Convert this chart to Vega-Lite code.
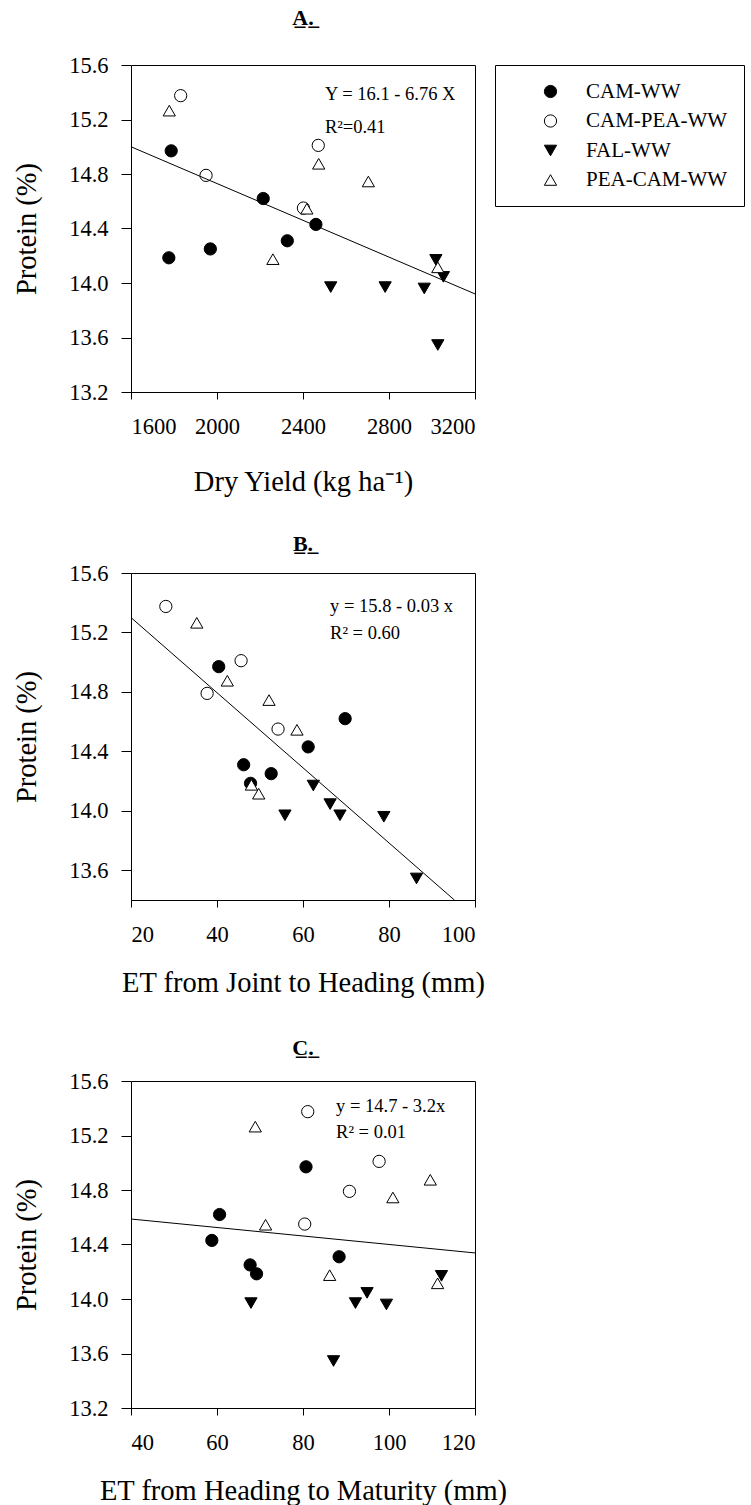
{
  "$schema": "https://vega.github.io/schema/vega-lite/v6.json",
  "padding": {"left": 12, "top": 6, "right": 0, "bottom": 0},
  "background": "white",
  "config": {
    "font": "Liberation Serif",
    "view": {"stroke": "black", "strokeWidth": 1},
    "axis": {"grid": false, "domainColor": "black", "domainWidth": 1, "tickColor": "black", "tickWidth": 1, "labelColor": "black", "titleColor": "black", "labelFontSize": 22.5, "titleFontSize": 28.5, "titleFontWeight": "normal", "labelFont": "Liberation Serif", "titleFont": "Liberation Serif"},
    "axisX": {"tickSize": 7, "labelPadding": 16, "titlePadding": 23},
    "axisY": {"tickSize": 10, "labelPadding": 13, "titlePadding": 27},
    "title": {"fontSize": 22, "fontWeight": "bold", "frame": "group", "anchor": "middle", "color": "black", "font": "Liberation Serif"},
    "legend": {"orient": "none", "legendX": 364, "legendY": 0, "strokeColor": "black", "strokeWidth": 1, "padding": 16, "symbolOffset": 29, "labelOffset": 25, "labelFontSize": 21, "labelFont": "Liberation Serif", "labelColor": "black", "rowPadding": 7.5, "symbolSize": 150, "symbolStrokeWidth": 1, "labelLimit": 300}
  },
  "datasets": {
    "pts": [
      {"group": "CAM-WW", "yield": 1787, "etjh": 40.4, "ethm": 80.7, "protein": 14.97},
      {"group": "CAM-WW", "yield": 1776, "etjh": 47.8, "ethm": 69.2, "protein": 14.185},
      {"group": "CAM-WW", "yield": 1969, "etjh": 52.6, "ethm": 67.7, "protein": 14.25},
      {"group": "CAM-WW", "yield": 2215, "etjh": 69.8, "ethm": 60.6, "protein": 14.62},
      {"group": "CAM-WW", "yield": 2327, "etjh": 46.2, "ethm": 88.4, "protein": 14.31},
      {"group": "CAM-WW", "yield": 2460, "etjh": 61.2, "ethm": 58.8, "protein": 14.43},
      {"group": "CAM-PEA-WW", "yield": 1831, "etjh": 28.1, "ethm": 81.1, "protein": 15.375},
      {"group": "CAM-PEA-WW", "yield": 1949, "etjh": 37.7, "ethm": 90.8, "protein": 14.79},
      {"group": "CAM-PEA-WW", "yield": 2402, "etjh": 54.2, "ethm": 80.4, "protein": 14.55},
      {"group": "CAM-PEA-WW", "yield": 2471, "etjh": 45.6, "ethm": 97.7, "protein": 15.01},
      {"group": "FAL-WW", "yield": 2529, "etjh": 55.8, "ethm": 67.9, "protein": 13.97},
      {"group": "FAL-WW", "yield": 2782, "etjh": 68.6, "ethm": 92.2, "protein": 13.97},
      {"group": "FAL-WW", "yield": 2964, "etjh": 78.8, "ethm": 99.4, "protein": 13.96},
      {"group": "FAL-WW", "yield": 3018, "etjh": 62.4, "ethm": 112.2, "protein": 14.17},
      {"group": "FAL-WW", "yield": 3053, "etjh": 66.3, "ethm": 94.9, "protein": 14.045},
      {"group": "FAL-WW", "yield": 3027, "etjh": 86.4, "ethm": 87.1, "protein": 13.545},
      {"group": "PEA-CAM-WW", "yield": 1778, "etjh": 35.3, "ethm": 68.9, "protein": 15.265},
      {"group": "PEA-CAM-WW", "yield": 2260, "etjh": 48.0, "ethm": 86.2, "protein": 14.175},
      {"group": "PEA-CAM-WW", "yield": 2418, "etjh": 58.6, "ethm": 71.3, "protein": 14.545},
      {"group": "PEA-CAM-WW", "yield": 2473, "etjh": 42.4, "ethm": 109.6, "protein": 14.875},
      {"group": "PEA-CAM-WW", "yield": 2704, "etjh": 52.1, "ethm": 100.9, "protein": 14.745},
      {"group": "PEA-CAM-WW", "yield": 3027, "etjh": 49.7, "ethm": 111.3, "protein": 14.115}
    ],
    "fitA": [{"yield": 1600, "protein": 15.0}, {"yield": 3200, "protein": 13.92}],
    "fitB": [{"etjh": 20, "protein": 15.3}, {"etjh": 95.2, "protein": 13.4}],
    "fitC": [{"ethm": 40, "protein": 14.587}, {"ethm": 120, "protein": 14.338}],
    "eqA": [{"yield": 2502, "protein": 15.387, "label": "Y = 16.1 - 6.76 X"}, {"yield": 2502, "protein": 15.145, "label": "R²=0.41"}],
    "eqB": [{"etjh": 66.3, "protein": 15.38, "label": "y = 15.8 - 0.03 x"}, {"etjh": 66.3, "protein": 15.195, "label": "R² = 0.60"}],
    "eqC": [{"ethm": 87.7, "protein": 15.417, "label": "y = 14.7 - 3.2x"}, {"ethm": 87.7, "protein": 15.225, "label": "R² = 0.01"}]
  },
  "bounds": "flush",
  "spacing": 181,
  "vconcat": [
    {
      "width": 344, "height": 327,
      "title": {"text": "A̲.̲", "offset": 24},
      "layer": [
        {
          "data": {"name": "pts"},
          "mark": {"type": "point", "filled": false, "strokeWidth": 1, "size": 150, "opacity": 1, "fillOpacity": 1, "strokeOpacity": 1},
          "encoding": {
            "x": {"field": "yield", "type": "quantitative", "scale": {"domain": [1600, 3200], "nice": false, "zero": false}, "axis": {"values": [1600, 2000, 2400, 2800, 3200], "format": "d", "title": "Dry Yield (kg ha⁻¹)", "titlePadding": 30}},
            "y": {"field": "protein", "type": "quantitative", "scale": {"domain": [13.2, 15.6], "nice": false, "zero": false}, "axis": {"values": [13.2, 13.6, 14.0, 14.4, 14.8, 15.2, 15.6], "format": ".1f", "title": "Protein (%)"}},
            "shape": {"field": "group", "type": "nominal", "scale": {"domain": ["CAM-WW", "CAM-PEA-WW", "FAL-WW", "PEA-CAM-WW"], "range": ["circle", "circle", "triangle-down", "triangle-up"]}, "legend": {"title": null}},
            "fill": {"field": "group", "type": "nominal", "scale": {"domain": ["CAM-WW", "CAM-PEA-WW", "FAL-WW", "PEA-CAM-WW"], "range": ["black", "white", "black", "white"]}, "legend": {"title": null}},
            "stroke": {"field": "group", "type": "nominal", "scale": {"domain": ["CAM-WW", "CAM-PEA-WW", "FAL-WW", "PEA-CAM-WW"], "range": ["black", "black", "black", "black"]}, "legend": {"title": null}}
          }
        },
        {
          "data": {"name": "fitA"},
          "mark": {"type": "line", "color": "black", "strokeWidth": 1},
          "encoding": {"x": {"field": "yield", "type": "quantitative"}, "y": {"field": "protein", "type": "quantitative"}}
        },
        {
          "data": {"name": "eqA"},
          "mark": {"type": "text", "align": "left", "baseline": "middle", "fontSize": 18.5, "color": "black"},
          "encoding": {"x": {"field": "yield", "type": "quantitative"}, "y": {"field": "protein", "type": "quantitative"}, "text": {"field": "label"}}
        }
      ]
    },
    {
      "width": 344, "height": 327,
      "title": {"text": "B̲.̲", "offset": 6},
      "layer": [
        {
          "data": {"name": "pts"},
          "mark": {"type": "point", "filled": false, "strokeWidth": 1, "size": 150, "opacity": 1, "fillOpacity": 1, "strokeOpacity": 1},
          "encoding": {
            "x": {"field": "etjh", "type": "quantitative", "scale": {"domain": [20, 100], "nice": false, "zero": false}, "axis": {"values": [20, 40, 60, 80, 100], "title": "ET from Joint to Heading (mm)"}},
            "y": {"field": "protein", "type": "quantitative", "scale": {"domain": [13.4, 15.6], "nice": false, "zero": false}, "axis": {"values": [13.6, 14.0, 14.4, 14.8, 15.2, 15.6], "format": ".1f", "title": "Protein (%)"}},
            "shape": {"field": "group", "type": "nominal", "scale": {"domain": ["CAM-WW", "CAM-PEA-WW", "FAL-WW", "PEA-CAM-WW"], "range": ["circle", "circle", "triangle-down", "triangle-up"]}, "legend": {"title": null}},
            "fill": {"field": "group", "type": "nominal", "scale": {"domain": ["CAM-WW", "CAM-PEA-WW", "FAL-WW", "PEA-CAM-WW"], "range": ["black", "white", "black", "white"]}, "legend": {"title": null}},
            "stroke": {"field": "group", "type": "nominal", "scale": {"domain": ["CAM-WW", "CAM-PEA-WW", "FAL-WW", "PEA-CAM-WW"], "range": ["black", "black", "black", "black"]}, "legend": {"title": null}}
          }
        },
        {
          "data": {"name": "fitB"},
          "mark": {"type": "line", "color": "black", "strokeWidth": 1},
          "encoding": {"x": {"field": "etjh", "type": "quantitative"}, "y": {"field": "protein", "type": "quantitative"}}
        },
        {
          "data": {"name": "eqB"},
          "mark": {"type": "text", "align": "left", "baseline": "middle", "fontSize": 18.5, "color": "black"},
          "encoding": {"x": {"field": "etjh", "type": "quantitative"}, "y": {"field": "protein", "type": "quantitative"}, "text": {"field": "label"}}
        }
      ]
    },
    {
      "width": 344, "height": 327,
      "title": {"text": "C̲.̲", "offset": 10},
      "layer": [
        {
          "data": {"name": "pts"},
          "mark": {"type": "point", "filled": false, "strokeWidth": 1, "size": 150, "opacity": 1, "fillOpacity": 1, "strokeOpacity": 1},
          "encoding": {
            "x": {"field": "ethm", "type": "quantitative", "scale": {"domain": [40, 120], "nice": false, "zero": false}, "axis": {"values": [40, 60, 80, 100, 120], "title": "ET from Heading to Maturity (mm)"}},
            "y": {"field": "protein", "type": "quantitative", "scale": {"domain": [13.2, 15.6], "nice": false, "zero": false}, "axis": {"values": [13.2, 13.6, 14.0, 14.4, 14.8, 15.2, 15.6], "format": ".1f", "title": "Protein (%)"}},
            "shape": {"field": "group", "type": "nominal", "scale": {"domain": ["CAM-WW", "CAM-PEA-WW", "FAL-WW", "PEA-CAM-WW"], "range": ["circle", "circle", "triangle-down", "triangle-up"]}, "legend": {"title": null}},
            "fill": {"field": "group", "type": "nominal", "scale": {"domain": ["CAM-WW", "CAM-PEA-WW", "FAL-WW", "PEA-CAM-WW"], "range": ["black", "white", "black", "white"]}, "legend": {"title": null}},
            "stroke": {"field": "group", "type": "nominal", "scale": {"domain": ["CAM-WW", "CAM-PEA-WW", "FAL-WW", "PEA-CAM-WW"], "range": ["black", "black", "black", "black"]}, "legend": {"title": null}}
          }
        },
        {
          "data": {"name": "fitC"},
          "mark": {"type": "line", "color": "black", "strokeWidth": 1},
          "encoding": {"x": {"field": "ethm", "type": "quantitative"}, "y": {"field": "protein", "type": "quantitative"}}
        },
        {
          "data": {"name": "eqC"},
          "mark": {"type": "text", "align": "left", "baseline": "middle", "fontSize": 18.5, "color": "black"},
          "encoding": {"x": {"field": "ethm", "type": "quantitative"}, "y": {"field": "protein", "type": "quantitative"}, "text": {"field": "label"}}
        }
      ]
    }
  ]
}
